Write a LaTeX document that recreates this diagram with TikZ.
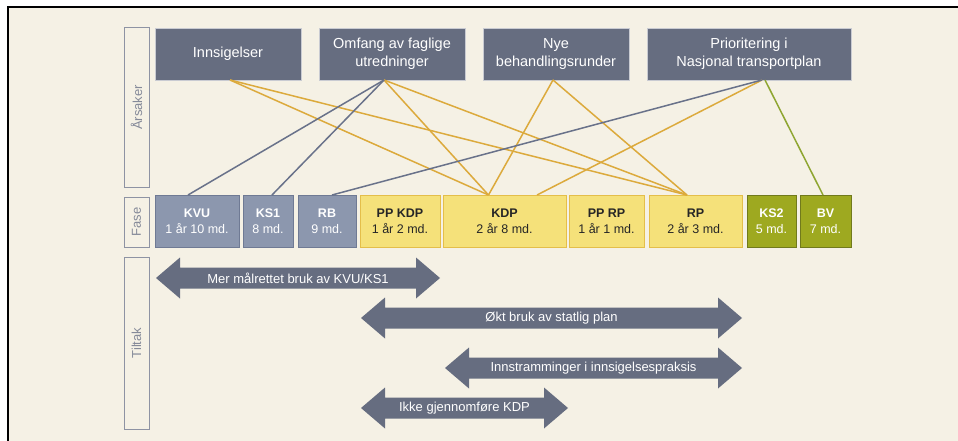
\documentclass[tikz,border=0pt]{standalone}
\usepackage{fontspec}
\setmainfont{Liberation Sans}
\usetikzlibrary{calc}
\definecolor{cream}{HTML}{F5F1E5}
\definecolor{slate}{HTML}{666D80}
\definecolor{slateedge}{HTML}{C9CBD2}
\definecolor{phgray}{HTML}{8C97AE}
\definecolor{phgrayedge}{HTML}{6F7A94}
\definecolor{phyellow}{HTML}{F5E17A}
\definecolor{phyellowedge}{HTML}{E4BE4A}
\definecolor{phgreen}{HTML}{9EA920}
\definecolor{phgreenedge}{HTML}{717A1C}
\definecolor{lnyellow}{HTML}{DCAA3C}
\definecolor{lngray}{HTML}{69728A}
\definecolor{lngreen}{HTML}{8FA632}
\definecolor{sideedge}{HTML}{8E93A3}
\definecolor{sidetext}{HTML}{858A99}
\newcommand\tarrow[5]{%
  \fill[slate] (#2,#4) -- ({#2+24},{#4-20.5}) -- ({#2+24},{#4-10.5}) -- ({#3-24},{#4-10.5}) -- ({#3-24},{#4-20.5}) -- (#3,#4) -- ({#3-24},{#4+20.5}) -- ({#3-24},{#4+10.5}) -- ({#2+24},{#4+10.5}) -- ({#2+24},{#4+20.5}) -- cycle;
  \node[arrowtext] (#1) at ({(#2+#3)/2},#4) {#5};}
\begin{document}
\begin{tikzpicture}[x=1pt,y=-1pt,
  cause/.style={draw=slateedge, line width=0.6pt, fill=slate, text=white, align=center,
    minimum height=52, inner sep=0pt, outer sep=0pt, font=\fontsize{14.5}{18}\selectfont},
  phase/.style={line width=1pt, align=center, minimum height=52, inner sep=0pt, outer sep=0pt,
    font=\fontsize{12.5}{16}\selectfont},
  pgray/.style={phase, draw=phgrayedge, fill=phgray, text=white},
  pyellow/.style={phase, draw=phyellowedge, fill=phyellow, text=black!85},
  pgreen/.style={phase, draw=phgreenedge, fill=phgreen, text=white},
  side/.style={draw=sideedge, line width=1pt, minimum width=25, inner sep=0pt, outer sep=0pt},
  sidelabel/.style={text=sidetext, rotate=90, font=\fontsize{13}{15}\selectfont},
  arrowtext/.style={text=white, font=\fontsize{13}{15}\selectfont, inner sep=0pt},
  ylink/.style={draw=lnyellow, line width=1.5pt},
  glink/.style={draw=lngray, line width=1.5pt},
  grlink/.style={draw=lngreen, line width=1.5pt}]
\useasboundingbox (0,0) rectangle (958,441);
\fill[white] (0,0) rectangle (958,441);
\fill[cream] (8,7) rectangle (958,441);
\draw[black, line width=2pt] (8,441) -- (8,7) -- (958,7);

% side labels
\node[side, minimum height=159] (sa) at (136.5,107.5) {};
\node[sidelabel] (sat) at (sa.center) {Årsaker};
\node[side, minimum height=50] (sf) at (136.5,222) {};
\node[sidelabel] (sft) at (sf.center) {Fase};
\node[side, minimum height=172] (st) at (136.5,343) {};
\node[sidelabel] (stt) at (st.center) {Tiltak};

% causes
\node[cause, minimum width=146] (ins) at (228,54) {Innsigelser};
\node[cause, minimum width=146] (omf) at (392,54) {Omfang av faglige\\utredninger};
\node[cause, minimum width=146] (nye) at (556,54) {Nye\\behandlingsrunder};
\node[cause, minimum width=204] (pri) at (749,54) {Prioritering i\\Nasjonal transportplan};

% phases
\node[pgray, minimum width=84] (kvu) at (197,221) {\textbf{KVU}\\1 år 10 md.};
\node[pgray, minimum width=50] (ks1) at (268,221) {\textbf{KS1}\\8 md.};
\node[pgray, minimum width=58] (rb) at (327,221) {\textbf{RB}\\9 md.};
\node[pyellow, minimum width=80] (ppkdp) at (400,221) {\textbf{PP KDP}\\1 år 2 md.};
\node[pyellow, minimum width=123] (kdp) at (504.5,221) {\textbf{KDP}\\2 år 8 md.};
\node[pyellow, minimum width=75] (pprp) at (606.5,221) {\textbf{PP RP}\\1 år 1 md.};
\node[pyellow, minimum width=93] (rp) at (695.5,221) {\textbf{RP}\\2 år 3 md.};
\node[pgreen, minimum width=49] (ks2) at (771.5,221) {\textbf{KS2}\\5 md.};
\node[pgreen, minimum width=51] (bv) at (825.5,221) {\textbf{BV}\\7 md.};

% connectors
\coordinate (insS) at ([xshift=2]ins.south);
\coordinate (kdpA) at ([xshift=-16]kdp.north);
\coordinate (kdpB) at ([xshift=32.5]kdp.north);
\coordinate (rpA) at ([xshift=-8.5]rp.north);
\coordinate (omfS) at ([xshift=-8]omf.south);
\coordinate (nyeS) at ([xshift=-3]nye.south);
\coordinate (priS) at ([xshift=13]pri.south);
\coordinate (priG) at ([xshift=16]pri.south);
\path[ylink] (insS) -- (kdpA);
\path[ylink] (insS) -- (rpA);
\path[ylink] (omfS) -- (kdpA);
\path[ylink] (omfS) -- (rpA);
\path[ylink] (nyeS) -- (kdpA);
\path[ylink] (nyeS) -- (rpA);
\path[ylink] (priS) -- (kdpB);
\path[glink] (omfS) -- ([xshift=-9]kvu.north);
\path[glink] (omfS) -- ([xshift=4]ks1.north);
\path[glink] (priS) -- ([xshift=5]rb.north);
\path[grlink] (priG) -- ([xshift=-2.5]bv.north);

% measures
\tarrow{a1}{156}{440}{278}{Mer målrettet bruk av KVU/KS1}
\tarrow{a2}{361}{742}{318}{Økt bruk av statlig plan}
\tarrow{a3}{445}{742}{368}{Innstramminger i innsigelsespraksis}
\tarrow{a4}{361}{568}{408}{Ikke gjennomføre KDP}
\end{tikzpicture}
\end{document}
